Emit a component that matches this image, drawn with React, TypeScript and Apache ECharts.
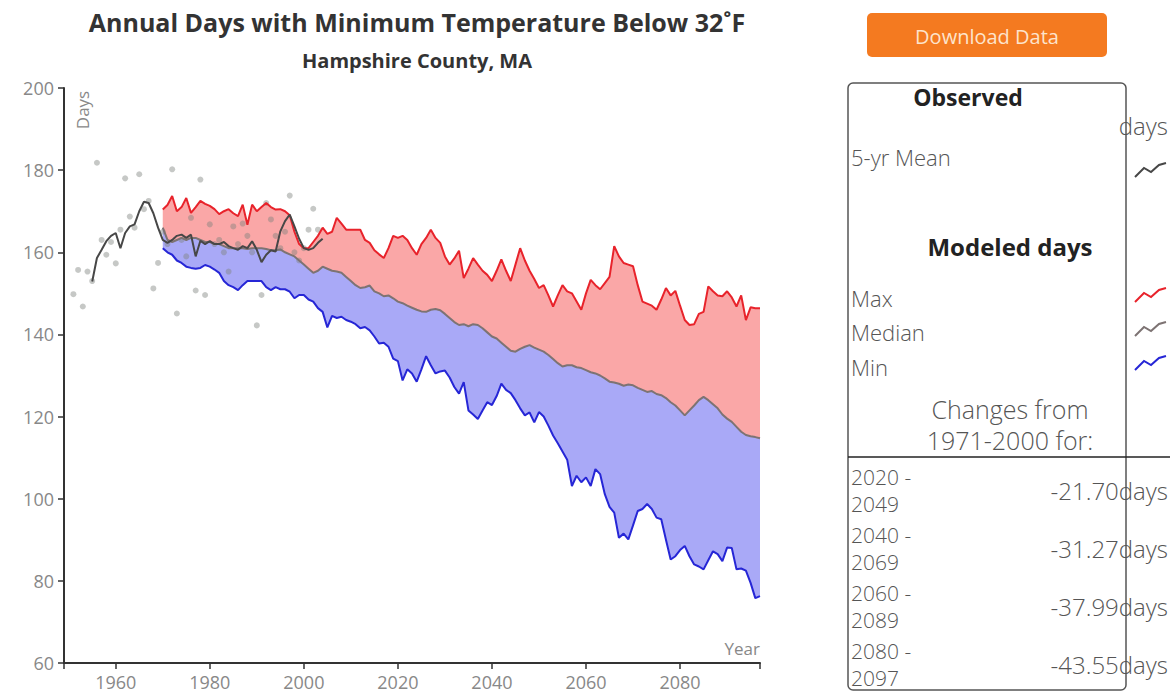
import React, { useEffect, useRef } from 'react';
import * as echarts from 'echarts';

// ---- Data ----
const MODEL_START = 1970;
const modelMax = [
  170.4, 171.5, 173.7, 170, 171, 173.2, 169.6, 171, 172.5, 171.8,
  171.3, 170.5, 169.3, 170, 170.5, 169.5, 168.8, 171.6, 166.7, 171.6,
  170, 171, 172, 171, 170.4, 170.5, 170, 169, 165, 162,
  161, 161, 162.5, 164, 166, 164.5, 165, 168.4, 167, 165.5,
  165.5, 165.5, 165.5, 163, 162.3, 160.5, 159.5, 158.6, 161, 164,
  163.5, 164, 163, 161, 159.4, 162, 163.5, 165.5, 163.5, 162.3,
  159, 157, 158.5, 160.4, 153.7, 156, 158.6, 157, 155.5, 154.5,
  153, 155.5, 158.3, 155.5, 153, 157, 161, 158, 155.5, 153.5,
  151.3, 152, 149.5, 146.8, 149.5, 152, 150.5, 150, 148, 146,
  150, 153.3, 152, 151, 152.5, 154, 161.5, 159, 157.4, 157,
  156.6, 152, 148, 147.5, 147, 146, 148.5, 151.3, 149.5, 150.6,
  147, 143.5, 142.3, 142.5, 145, 145.5, 151.7, 150.5, 149.5, 149.3,
  150.5, 149, 146.8, 149.5, 143.5, 146.6, 146.4, 146.4,
];
const modelMedian = [
  166, 163, 162.5, 163, 163.5, 163, 163.5, 163.5, 163, 162.5,
  162.5, 162, 162, 161.5, 161, 161, 161, 161, 160.8, 161,
  161, 161, 160.8, 160.5, 160.5, 160.7, 160, 159.5, 159, 158,
  157, 156, 155, 155.5, 156.5, 156, 155.5, 155.3, 155, 154,
  153, 152, 151.3, 151.5, 151.9, 150.5, 150, 149.3, 149.5, 148.8,
  148, 147.6, 147, 146.5, 146, 145.6, 145.5, 146, 146.2, 145.9,
  145, 144, 143, 142.3, 142.5, 142, 142.5, 142.3, 141.5, 140.5,
  139.5, 139, 138, 137, 136, 135.8, 136.5, 137, 137.4, 136.8,
  136.3, 135.8, 135, 134, 133, 132.2, 132.5, 132.5, 132, 131.8,
  131.3, 130.8, 130.5, 130, 129.3, 128.5, 128.3, 128, 127.5, 127.8,
  127.6, 127, 126.5, 126, 126.2, 125.5, 125.2, 124.5, 123.5, 122.7,
  121.5, 120.3, 121.5, 122.7, 124, 124.8, 124, 123, 122, 120.5,
  119.5, 118.7, 117.5, 116.3, 115.5, 115.2, 115, 114.7,
];
const modelMin = [
  161, 160, 159.4, 158, 157.4, 156.5, 156.2, 156, 156.2, 156.9,
  156.5, 155.8, 155, 153, 152, 151.5, 150.8, 152, 153, 153,
  153, 153, 151.5, 150.8, 151.5, 151, 151, 150.4, 148.8, 149.6,
  149.6, 148.5, 148, 146.4, 145.5, 141.7, 144.5, 144, 144.3, 143.5,
  143.1, 142.5, 141.5, 141.8, 141, 139.5, 137.8, 138, 137, 134.1,
  133.5, 128.8, 131.5, 130.5, 128.5, 131.5, 134.7, 132.5, 130.5, 131,
  131.2, 129.5, 127.2, 125.6, 128.4, 121.5, 120.5, 119.4, 121.5, 123.5,
  122.8, 125, 128, 126.5, 125.7, 124, 122, 120.3, 121, 118.6,
  121.1, 120, 117.8, 115.4, 113.5, 111.5, 109.5, 103.1, 105.6, 104,
  105.2, 103.1, 107.2, 106, 101.1, 98, 96.6, 90.5, 91.5, 90.1,
  93.5, 97, 97.5, 98.7, 97.5, 95.4, 95, 90, 85.2, 86,
  87.5, 88.5, 86, 84, 83.5, 82.8, 85, 87.2, 86.5, 84.8,
  88.1, 88, 82.8, 83, 82.5, 79.5, 75.8, 76.3,
];
const OBS_START = 1951;
const observed = [
  149.8, 155.7, 146.8, 155.3, 153, 181.8, 163, 159.4, 162.5, 157.3,
  165.5, 178, 168.7, 166, 179, 170.5, 172.5, 151.2, 157.4, 165,
  162, 180.2, 145.1, 163, 159, 168.4, 150.7, 177.7, 149.6, 166.8,
  162, 163, 160, 155.3, 166.3, 162, 167, 164, 160, 142.2,
  149.6, 172, 168, 164, 161, 165, 173.8, 160, 158, 161,
  165.5, 170.6, 165.5,
];
const MEAN_START = 1955;
const mean5yr = [
  152.9, 158.6, 160.6, 162.7, 164, 164.7, 161, 164.7, 166.3, 166.8,
  170, 172.3, 172, 169.5, 166, 163, 162.3, 163, 164, 164.3,
  163.5, 164.3, 159, 162.8, 162, 162.7, 162, 162, 162.5, 161.5,
  161, 160.6, 161.5, 161, 162.7, 160.6, 157.6, 159.4, 160.5, 160.2,
  165.1, 167.6, 169.2, 166.3, 163.3, 161, 160.6, 161, 162.3, 163.3,
];
const xTickLabels = [1960, 1980, 2000, 2020, 2040, 2060, 2080];
const changePeriods = [['2020 -', '2049'], ['2040 -', '2069'], ['2060 -', '2089'], ['2080 -', '2097']];
const changeValues = ['-21.70', '-31.27', '-37.99', '-43.55'];

const FONT = '"Open Sans", Lato, sans-serif';
const RED = '#e8232b';
const BLUE = '#2626d6';
const MEDIAN = '#7d7373';
const MEAN = '#474747';
const RED_FILL = '#faa7a7';
const BLUE_FILL = '#a9a9f7';

const pairs = (start: number, arr: number[]) => arr.map((v, i) => [start + i, v]);

function zig(x: number, y: number) {
  return [[x, y + 14], [x + 9, y + 5], [x + 16, y + 9], [x + 24, y + 2], [x + 31, y]];
}

export default function App() {
  const ref = useRef<HTMLDivElement>(null);
  useEffect(() => {
    if (!ref.current) return;
    const chart = echarts.init(ref.current, undefined, { renderer: 'svg' });
    const txt = (text: string, x: number, y: number, size: number, align = 'left', color = '#555', weight: any = 300) => ({
      type: 'text', x, y,
      style: { text, fill: color, font: `${weight} ${size}px ${FONT}`, textAlign: align, textVerticalAlign: 'middle' },
    });
    const graphics: any[] = [
      txt('Annual Days with Minimum Temperature Below 32˚F', 417, 22, 25, 'center', '#333', 'bold'),
      txt('Hampshire County, MA', 417, 60, 20, 'center', '#333', 'bold'),
      { type: 'text', x: 82, y: 110, rotation: Math.PI / 2, style: { text: 'Days', fill: '#888', font: `17px ${FONT}`, textAlign: 'center', textVerticalAlign: 'middle' } },
      txt('Year', 760, 648, 17, 'right', '#888', 400),
      // button
      { type: 'rect', shape: { x: 867, y: 13, width: 240, height: 44, r: 5 }, style: { fill: '#f47a20' } },
      txt('Download Data', 987, 36, 20, 'center', '#fde4cc', 400),
      // legend box
      { type: 'rect', shape: { x: 848, y: 83, width: 278, height: 607, r: 5 }, style: { fill: 'none', stroke: '#555', lineWidth: 1.5 } },
      txt('Observed', 968, 97, 23, 'center', '#222', 'bold'),
      txt('days', 1168, 125, 24, 'right'),
      txt('5-yr Mean', 851, 157, 22),
      { type: 'polyline', shape: { points: zig(1135, 163) }, style: { stroke: MEAN, lineWidth: 2, fill: 'none' } },
      txt('Modeled days', 1010, 246, 24, 'center', '#222', 'bold'),
      txt('Max', 851, 298, 22),
      { type: 'polyline', shape: { points: zig(1135, 288) }, style: { stroke: RED, lineWidth: 2, fill: 'none' } },
      txt('Median', 851, 332, 22),
      { type: 'polyline', shape: { points: zig(1135, 322) }, style: { stroke: MEDIAN, lineWidth: 2, fill: 'none' } },
      txt('Min', 851, 367, 22),
      { type: 'polyline', shape: { points: zig(1135, 356) }, style: { stroke: BLUE, lineWidth: 2, fill: 'none' } },
      txt('Changes from', 1010, 409, 25, 'center'),
      txt('1971-2000 for:', 1010, 440, 25, 'center'),
      { type: 'line', shape: { x1: 848, y1: 457, x2: 1170, y2: 457 }, style: { stroke: '#222', lineWidth: 1.5 } },
    ];
    changePeriods.forEach((p, i) => {
      const base = 477 + i * 58;
      graphics.push(txt(p[0], 851, base, 21));
      graphics.push(txt(p[1], 851, base + 27, 21));
      graphics.push(txt(changeValues[i] + 'days', 1168, base + 13, 24, 'right'));
    });

    const option: any = {
      animation: false,
      grid: { left: 64, right: 415, top: 88, bottom: 35, containLabel: false },
      xAxis: {
        type: 'value', min: 1949, max: 2097, z: 10,
        axisLine: { show: true, lineStyle: { color: '#333', width: 2 } },
        axisTick: { show: true, length: 6, lineStyle: { color: '#333', width: 1.5 }, customValues: [1949, ...xTickLabels, 2097] },
        axisLabel: { customValues: xTickLabels, formatter: (v: number) => String(v), color: '#888', fontSize: 18, margin: 10, fontFamily: FONT },
        splitLine: { show: false },
      },
      yAxis: {
        type: 'value', min: 60, max: 200, interval: 20, z: 10,
        axisLine: { show: true, lineStyle: { color: '#333', width: 2 } },
        axisTick: { show: true, length: 6, lineStyle: { color: '#333', width: 1.5 } },
        axisLabel: { color: '#888', fontSize: 18, margin: 10, fontFamily: FONT },
        splitLine: { show: false },
      },
      graphic: graphics,
      series: [
        {
          type: 'custom',
          data: [[MODEL_START, modelMax[0]]],
          z: 1,
          silent: true,
          renderItem: (_params: any, api: any) => {
            const top = modelMax.map((v, i) => api.coord([MODEL_START + i, v]));
            const mid = modelMedian.map((v, i) => api.coord([MODEL_START + i, v]));
            const bot = modelMin.map((v, i) => api.coord([MODEL_START + i, v]));
            return {
              type: 'group',
              children: [
                { type: 'polygon', shape: { points: [...top, ...mid.slice().reverse()] }, style: { fill: RED_FILL } },
                { type: 'polygon', shape: { points: [...mid, ...bot.slice().reverse()] }, style: { fill: BLUE_FILL } },
              ],
            };
          },
        },
        { type: 'scatter', data: pairs(OBS_START, observed), symbolSize: 6, z: 3, itemStyle: { color: 'rgba(125,130,125,0.55)' } },
        { type: 'line', data: pairs(MODEL_START, modelMedian), symbol: 'none', z: 4, lineStyle: { color: MEDIAN, width: 2 } },
        { type: 'line', data: pairs(MODEL_START, modelMax), symbol: 'none', z: 4, lineStyle: { color: RED, width: 2 } },
        { type: 'line', data: pairs(MODEL_START, modelMin), symbol: 'none', z: 4, lineStyle: { color: BLUE, width: 2 } },
        { type: 'line', data: pairs(MEAN_START, mean5yr), symbol: 'none', z: 5, lineStyle: { color: MEAN, width: 2 } },
      ],
    };
    chart.setOption(option);
    return () => chart.dispose();
  }, []);
  return <div ref={ref} style={{ position: 'fixed', left: 0, top: 0, width: 1175, height: 698, background: '#fff' }} />;
}
